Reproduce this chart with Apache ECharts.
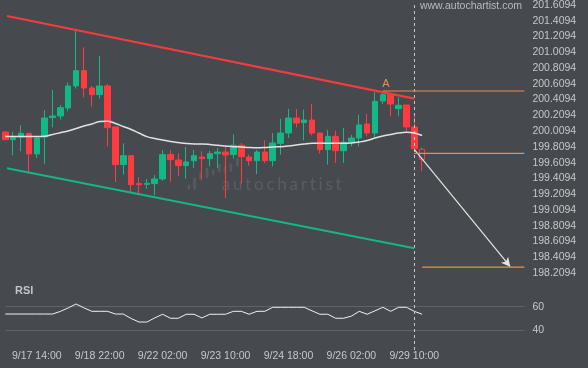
<!DOCTYPE html>
<html><head><meta charset="utf-8">
<script src="https://cdn.jsdelivr.net/npm/echarts@6/dist/echarts.min.js"></script>
<style>html,body{margin:0;padding:0;background:#46494e;}#c{width:588px;height:368px;}</style>
</head><body><div id="c"></div>
<script>
// ---- data ----
const times = ['9/16 22:00','9/17 02:00','9/17 06:00','9/17 10:00','9/17 14:00','9/17 18:00','9/17 22:00','9/18 02:00','9/18 06:00','9/18 10:00',
'9/18 14:00','9/18 18:00','9/18 22:00','9/19 02:00','9/19 06:00','9/19 10:00','9/19 14:00','9/19 18:00','9/21 18:00','9/21 22:00',
'9/22 02:00','9/22 06:00','9/22 10:00','9/22 14:00','9/22 18:00','9/22 22:00','9/23 02:00','9/23 06:00','9/23 10:00','9/23 14:00',
'9/23 18:00','9/23 22:00','9/24 02:00','9/24 06:00','9/24 10:00','9/24 14:00','9/24 18:00','9/24 22:00','9/25 02:00','9/25 06:00',
'9/25 10:00','9/25 14:00','9/25 18:00','9/25 22:00','9/26 02:00','9/26 06:00','9/26 10:00','9/26 14:00','9/26 18:00','9/28 22:00',
'9/29 02:00','9/29 06:00','9/29 10:00','9/29 14:00','9/29 18:00','9/29 22:00','9/30 02:00','9/30 06:00','9/30 10:00','9/30 14:00',
'9/30 18:00','9/30 22:00','10/1 02:00','10/1 06:00','10/1 10:00','10/1 14:00','10/1 18:00'];

// [open, close, low, high]
const candles = [
[199.998,199.901,199.895,200.005],[199.901,199.926,199.702,199.998],[199.935,199.981,199.753,200.083],[199.981,199.719,199.491,199.985],
[199.719,199.922,199.668,199.935],[199.935,200.176,199.596,200.277],[200.180,200.201,200.057,200.531],[200.201,200.307,200.155,200.341],
[200.303,200.582,200.260,200.628],[200.582,200.776,200.548,201.284],[200.776,200.556,200.438,201.072],[200.556,200.472,200.320,200.582],
[200.472,200.582,200.421,200.962],[200.582,200.053,199.816,200.607],[200.062,199.584,199.364,200.062],[199.584,199.698,199.457,199.854],
[199.698,199.330,199.237,199.698],[199.343,199.330,199.216,199.423],[199.334,199.347,199.279,199.402],[199.343,199.402,199.195,199.453],
[199.402,199.711,199.381,199.770],[199.711,199.647,199.368,199.770],[199.643,199.571,199.436,199.728],[199.571,199.618,199.406,199.808],
[199.634,199.698,199.541,199.770],[199.681,199.660,199.402,199.753],[199.660,199.723,199.563,199.761],[199.723,199.744,199.541,199.795],
[199.744,199.706,199.161,199.812],[199.711,199.829,199.660,199.969],[199.829,199.685,199.347,199.859],[199.681,199.634,199.571,199.711],
[199.634,199.744,199.465,199.770],[199.744,199.634,199.605,199.892],[199.634,199.859,199.563,199.985],[199.854,199.985,199.711,200.167],
[199.985,200.176,199.922,200.290],[200.176,200.112,200.057,200.290],[200.117,200.150,199.892,200.282],[200.150,199.985,199.956,200.353],
[199.985,199.774,199.723,199.985],[199.774,199.943,199.584,200.028],[199.943,199.761,199.605,200.015],[199.761,199.867,199.605,200.049],
[199.867,199.922,199.816,199.964],[199.922,200.087,199.816,200.218],[200.100,199.985,199.943,200.227],[199.985,200.387,199.935,200.501],
[200.391,200.472,200.353,200.514],[200.472,200.353,200.197,200.493],[200.294,200.337,200.197,200.438],[200.341,200.062,200.007,200.341],
[200.062,199.787,199.787,200.210],[199.778,199.651,199.499,199.804]];
const hollowIndex = 53;

const ma = [199.941,199.941,199.941,199.941,199.941,199.944,199.966,199.989,200.011,200.043,
200.074,200.100,200.131,200.134,200.106,200.068,200.030,199.985,199.939,199.916,
199.897,199.878,199.865,199.852,199.846,199.846,199.840,199.829,199.821,199.812,
199.808,199.802,199.799,199.802,199.808,199.812,199.821,199.833,199.846,199.855,
199.855,199.855,199.855,199.855,199.859,199.871,199.890,199.922,199.947,199.966,
199.985,199.994,199.985,199.954];

const rsi = [53.8,53.8,53.8,53.8,53.8,53.8,53.8,56,59,62.3,
59,56.1,56.1,56.1,53.8,53.8,50,47,47,50.5,
53.6,50.2,50.2,53.6,53.6,50.5,53.6,53.6,53.6,56.1,
56.1,53.6,56.1,56.1,59.5,59.5,59.5,59.5,59.5,56.5,
53.6,53.6,50.2,50.2,52,56.1,53.6,56.5,59.5,56.1,
59.5,59.5,56.1,53.6];

const resistanceLine = [[0.216,201.470],[52,200.421]];
const supportLine = [[0.216,199.538],[52,198.523]];
const levelA = [[48,200.518],[66,200.518]];
const levelB = [[52,199.728],[66,199.728]];
const targetLevel = [[53,198.285],[66,198.285]];
const forecastArrow = [[52,199.779],[64.2,198.289]];
const priceTickBase = 198.2094, priceTickStep = 0.2, priceTop = 201.609;
const rsiMin = 40, rsiMax = 60, rsiStep = 20;
const labelEvery = 8, labelOffset = 4, lastLabelIndex = 52, signalIndex = 52;

// ---- style ----
const GREEN = '#12b886', RED = '#ff3b3f', TXT = '#c6c8cb', ORANGE = '#f08c4a';
const FONT = 'Liberation Sans, Arial, sans-serif';
const L = 5.3, R = 63.6;

const chart = echarts.init(document.getElementById('c'), null, {renderer: 'canvas'});

const candleData = candles.map((c, i) => i === hollowIndex
  ? {value: c, itemStyle: {color: 'transparent', color0: 'transparent', borderColor0: RED, borderColor: RED, borderWidth: 1}}
  : c);

// watermark text letter positions
const wmWord = 'autochartist';
const wmFont = '17px Lato';
const mctx = document.createElement('canvas').getContext('2d');
mctx.font = wmFont;
const wmW = [...wmWord].map(ch => mctx.measureText(ch).width);
const wmTotal = wmW.reduce((a, b) => a + b, 0);
const wmGap = (120 - wmTotal) / (wmWord.length - 1);
let wx = 221.7;
const wmChars = [...wmWord].map((ch, i) => {
  const el = {type: 'text', x: wx, y: 185, silent: true, style: {text: ch, font: wmFont, fill: '#5a5d62', verticalAlign: 'middle'}};
  wx += wmW[i] + wmGap;
  return el;
});
const logoBars = [[187.5,184.5,2.6,5.2],[193.2,177.5,2.9,12],[199.3,171.5,2.7,9],[205.6,167.8,2.9,10.5],[211.8,170,2.7,5],
[217.7,164,3,8],[223.5,166.3,2.7,7],[229.5,163.5,2.7,8.5],[236,158,3,8.3]].map(b => ({
  type: 'rect', silent: true, shape: {x: b[0], y: b[1], width: b[2], height: b[3], r: 1.2}, style: {fill: '#56595e'}
}));

const option = {
  backgroundColor: '#46494e',
  animation: false,
  title: {text: 'RSI', left: 15, top: 285, padding: 0, textStyle: {color: '#c2c4c7', fontSize: 11, fontWeight: 'bold', fontFamily: FONT}},
  graphic: [
    {type: 'text', right: 66, top: 1, silent: true, style: {text: 'www.autochartist.com', font: '10.5px ' + FONT, fill: '#b9bbbe'}},
    ...wmChars, ...logoBars
  ],
  grid: [
    {left: L, right: R, top: 5, bottom: 95, outerBoundsMode: 'none', containLabel: false},
    {left: L, right: R, top: 306.7, bottom: 37.7, outerBoundsMode: 'none', containLabel: false},
    {left: L, right: R, top: 4, bottom: 18, outerBoundsMode: 'none', containLabel: false}
  ],
  xAxis: [
    {gridIndex: 0, type: 'category', data: times, boundaryGap: false, show: false},
    {gridIndex: 0, type: 'value', min: 0, max: times.length - 1, show: false},
    {gridIndex: 1, type: 'category', data: times, boundaryGap: false,
      axisLine: {show: false}, axisTick: {show: false}, splitLine: {show: false},
      axisLabel: {color: TXT, fontSize: 10.5, fontFamily: FONT, margin: 20,
        interval: (i) => i % labelEvery === labelOffset && i <= lastLabelIndex}},
    {gridIndex: 2, type: 'category', data: times, boundaryGap: false, show: false}
  ],
  yAxis: [
    {gridIndex: 0, type: 'value', position: 'right', min: priceTickBase, max: priceTop, interval: priceTickStep,
      splitLine: {show: false}, axisLine: {show: false}, axisTick: {show: false},
      axisLabel: {color: TXT, fontSize: 10.5, fontFamily: FONT, margin: 8, showMinLabel: true, showMaxLabel: true,
        formatter: (v) => (priceTickBase + Math.round((v - priceTickBase) / priceTickStep) * priceTickStep).toFixed(4)}},
    {gridIndex: 1, type: 'value', position: 'right', min: rsiMin, max: rsiMax, interval: rsiStep,
      splitLine: {show: true, lineStyle: {color: '#5f6267', width: 1}}, axisLine: {show: false}, axisTick: {show: false},
      axisLabel: {color: TXT, fontSize: 10.5, fontFamily: FONT, margin: 8}},
    {gridIndex: 2, type: 'value', min: 0, max: 1, show: false}
  ],
  series: [
    {type: 'candlestick', xAxisIndex: 0, yAxisIndex: 0, barWidth: 6, data: candleData, z: 3, clip: true,
      itemStyle: {color: GREEN, color0: RED, borderColor: GREEN, borderColor0: RED, borderWidth: 1}},
    {type: 'line', xAxisIndex: 0, yAxisIndex: 0, data: ma, smooth: 0.4, symbol: 'none', z: 4,
      lineStyle: {color: '#e2e2e2', width: 1.5}},
    {type: 'line', xAxisIndex: 1, yAxisIndex: 0, data: resistanceLine, symbol: 'none', z: 5,
      lineStyle: {color: '#f23c3f', width: 2.2}},
    {type: 'line', xAxisIndex: 1, yAxisIndex: 0, data: supportLine, symbol: 'none', z: 5,
      lineStyle: {color: '#14b687', width: 2.2}},
    {type: 'line', xAxisIndex: 1, yAxisIndex: 0, data: levelA, symbol: 'none', z: 5,
      lineStyle: {color: ORANGE, width: 1.2},
      markPoint: {symbol: 'circle', symbolSize: 1, itemStyle: {color: 'transparent'}, silent: true,
        data: [{coord: levelA[0], value: 'A'}],
        label: {show: true, formatter: 'A', position: 'top', distance: 1, offset: [3, 0], color: ORANGE, fontSize: 11, fontFamily: FONT}}},
    {type: 'line', xAxisIndex: 1, yAxisIndex: 0, data: levelB, symbol: 'none', z: 5,
      lineStyle: {color: ORANGE, width: 1.2}},
    {type: 'line', xAxisIndex: 1, yAxisIndex: 0, data: targetLevel, symbol: 'none', z: 5,
      lineStyle: {color: ORANGE, width: 1.2},
      markLine: {silent: true, symbol: ['none', 'arrow'], symbolSize: [7, 9], label: {show: false},
        lineStyle: {color: '#e4e4e4', width: 1.2, type: 'solid'},
        data: [[{coord: forecastArrow[0]}, {coord: forecastArrow[1]}]]}},
    {type: 'line', xAxisIndex: 2, yAxisIndex: 1, data: rsi, symbol: 'none', clip: false,
      lineStyle: {color: '#f2f2f2', width: 1}},
    {type: 'line', xAxisIndex: 3, yAxisIndex: 2, data: [[times[0], 0]], symbol: 'none', z: 6,
      markLine: {silent: true, symbol: 'none', label: {show: false},
        lineStyle: {color: '#c9c9c9', width: 1, type: [3, 3]},
        data: [{xAxis: times[signalIndex]}]}}
  ]
};
chart.setOption(option);
</script>
</body></html>
